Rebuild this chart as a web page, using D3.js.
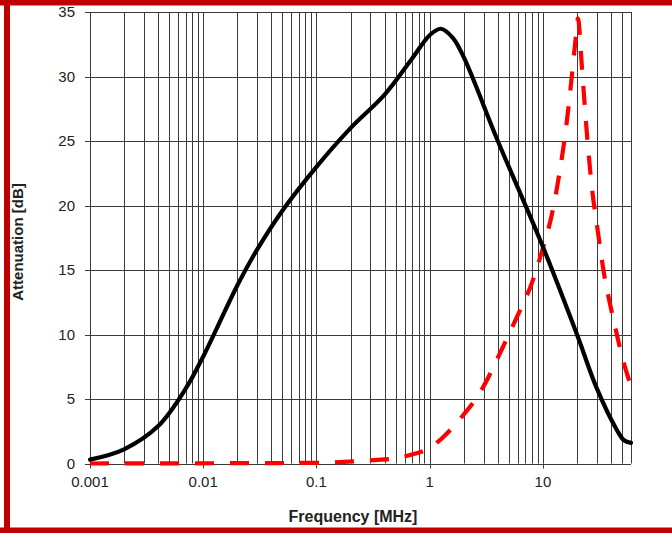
<!DOCTYPE html>
<html><head><meta charset="utf-8">
<script src="https://cdn.jsdelivr.net/npm/d3@7"></script>
<style>html,body{margin:0;padding:0;background:#fff;}svg{display:block;}</style>
</head><body>
<svg id="c" width="672" height="533"></svg>
<script>
// Data
const yTicks = [0, 5, 10, 15, 20, 25, 30, 35];
const xTickValues = [0.001, 0.01, 0.1, 1, 10];
const xTickLabels = ["0.001", "0.01", "0.1", "1", "10"];
const blackFreq = [0.001, 0.002, 0.004, 0.007, 0.01, 0.02, 0.03, 0.05, 0.1, 0.2, 0.4, 0.7, 1.0, 1.25, 1.6, 2.0, 4, 10, 20, 30, 45, 52, 60];
const blackAtt  = [0.3, 1.1, 2.9, 5.8, 8.3, 13.8, 16.6, 19.6, 23.0, 26.0, 28.6, 31.4, 33.2, 33.7, 33.0, 31.5, 25.0, 16.8, 10.0, 5.8, 2.6, 1.8, 1.6];
const redFreq = [0.001, 0.1, 0.3, 0.5, 0.7, 1.0, 1.3, 1.6, 2.0, 2.5, 3, 4, 5, 6, 8, 10, 12, 14, 16, 18, 19.5, 20.4, 22, 24, 27, 30, 35, 40, 45, 50, 60];
const redAtt  = [0, 0.05, 0.25, 0.4, 0.7, 1.2, 2.0, 2.8, 3.8, 4.9, 6.0, 8.2, 10.0, 11.5, 14.0, 16.7, 19.3, 22.5, 26.0, 30.0, 33.0, 34.5, 31.0, 26.5, 21.5, 18.5, 14.5, 12.0, 10.0, 8.3, 6.0];

const svg = d3.select("#c");
const W = 672, H = 533;
const plot = {left: 90, right: 631, top: 12, bottom: 463.5};

// Red frame
svg.append("rect").attr("x", 0).attr("y", 0).attr("width", W).attr("height", 5.5).attr("fill", "#c00000");
svg.append("rect").attr("x", 4).attr("y", 0).attr("width", 6).attr("height", H).attr("fill", "#c00000");
svg.append("rect").attr("x", 0).attr("y", 527.5).attr("width", W).attr("height", 6).attr("fill", "#c00000");

const x = d3.scaleLog().domain([0.001, 60]).range([plot.left, plot.right]);
const y = d3.scaleLinear().domain([0, 35]).range([plot.bottom, plot.top]);

// vertical grid lines
const vGrid = [];
for (let e = -3; e <= 1; e++) {
  for (let m = 1; m <= 9; m++) {
    const v = m * Math.pow(10, e);
    if (v <= 60.0001) vGrid.push(+v.toPrecision(3));
  }
}
const gridColor = "#3a3a3a";
svg.append("g").selectAll("line").data(vGrid).join("line")
  .attr("x1", d => Math.round(x(d)) + 0.5).attr("x2", d => Math.round(x(d)) + 0.5)
  .attr("y1", y(35)).attr("y2", y(0))
  .attr("stroke", gridColor).attr("stroke-width", 1);

// horizontal grid lines
svg.append("g").selectAll("line").data(yTicks).join("line")
  .attr("x1", plot.left - 5).attr("x2", plot.right)
  .attr("y1", d => Math.round(y(d)) + 0.5).attr("y2", d => Math.round(y(d)) + 0.5)
  .attr("stroke", gridColor).attr("stroke-width", 1);

// x major tick extensions
svg.append("g").selectAll("line").data(xTickValues).join("line")
  .attr("x1", d => Math.round(x(d)) + 0.5).attr("x2", d => Math.round(x(d)) + 0.5)
  .attr("y1", y(0)).attr("y2", y(0) + 5)
  .attr("stroke", gridColor).attr("stroke-width", 1);

// y tick labels
svg.append("g").selectAll("text").data(yTicks).join("text")
  .attr("x", 75).attr("y", d => y(d)).attr("dy", "0.35em")
  .attr("text-anchor", "end")
  .attr("font-family", "Liberation Sans, Arial, sans-serif").attr("font-size", 15)
  .attr("fill", "#222").text(d => d);

// x tick labels
svg.append("g").selectAll("text").data(xTickValues).join("text")
  .attr("x", d => x(d)).attr("y", 487)
  .attr("text-anchor", "middle")
  .attr("font-family", "Liberation Sans, Arial, sans-serif").attr("font-size", 15)
  .attr("fill", "#222").text((d, i) => xTickLabels[i]);

// axis titles
svg.append("text").attr("x", 353).attr("y", 522).attr("text-anchor", "middle")
  .attr("font-family", "Liberation Sans, Arial, sans-serif").attr("font-size", 16).attr("font-weight", "bold")
  .attr("fill", "#222").text("Frequency [MHz]");
svg.append("text").attr("transform", "translate(23,242) rotate(-90)").attr("text-anchor", "middle")
  .attr("font-family", "Liberation Sans, Arial, sans-serif").attr("font-size", 15).attr("font-weight", "bold")
  .attr("fill", "#222").text("Attenuation [dB]");

const smooth = d3.line().x(d => x(d[0])).y(d => y(d[1])).curve(d3.curveCatmullRom.alpha(0.5));
const mono = d3.line().x(d => x(d[0])).y(d => y(d[1])).curve(d3.curveMonotoneX);

// red dashed curve
svg.append("path").datum(redFreq.map((f, i) => [f, redAtt[i]]))
  .attr("d", mono).attr("fill", "none").attr("stroke", "#ff0000")
  .attr("stroke-width", 4.2).attr("stroke-dasharray", "19,16").attr("stroke-linecap", "butt");

// black curve
svg.append("path").datum(blackFreq.map((f, i) => [f, blackAtt[i]]))
  .attr("d", smooth).attr("fill", "none").attr("stroke", "#000")
  .attr("stroke-width", 4.2).attr("stroke-linejoin", "round").attr("stroke-linecap", "round");
</script>
</body></html>
